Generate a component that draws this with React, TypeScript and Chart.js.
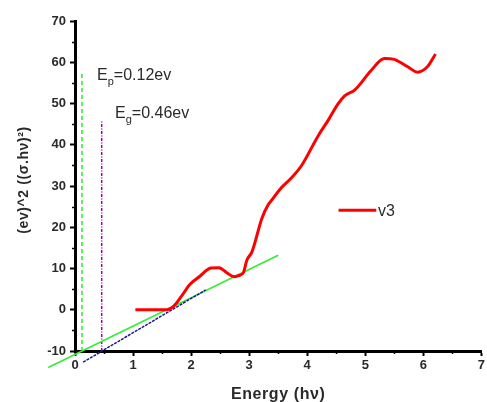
import React, { useEffect, useRef } from "react";
import { Chart, registerables } from "chart.js";

Chart.register(...registerables);

// Measured curve: photon energy (eV) vs (σ·hν)^2
const energy = [
  1.04, 1.57, 1.71, 1.85, 1.97, 2.14, 2.34, 2.48, 2.62, 2.74, 2.82, 2.9, 2.96, 3.05,
  3.22, 3.33, 3.39, 3.55, 3.73, 3.9, 4.19, 4.36, 4.53, 4.64, 4.82, 5.1, 5.33, 5.5,
  5.56, 5.73, 5.9, 6.07, 6.21,
];
const sigmaHv2 = [
  0, 0, 1.0, 3.6, 6.0, 8.0, 10.1, 10.2, 8.9, 8.0, 8.3, 9.0, 12.0, 14.1,
  22.2, 25.5, 26.6, 29.5, 32.0, 34.9, 42.2, 45.9, 49.9, 51.8, 53.3, 58.0, 60.9, 60.7,
  60.3, 58.9, 57.6, 58.9, 62.0,
];

const tangentX = [-0.46, 3.5];
const tangentY = [-14.0, 13.2];
const baseFitX = [0.14, 2.25];
const baseFitY = [-12.7, 4.8];

// Marked energies and the heights of their markers
const epValue = 0.12;
const egValue = 0.46;
const epTop = 57.8;
const egTop = 45.9;
const axisFloor = -10;

const xTicks = [0, 1, 2, 3, 4, 5, 6, 7];
const yTicks = [-10, 0, 10, 20, 30, 40, 50, 60, 70];

const seriesName = "v3";

const FONT = "'Liberation Sans', Arial, sans-serif";
const TEXT = "#2a2a2a";

const toPoints = (xs: number[], ys: number[]) => xs.map((x, i) => ({ x, y: ys[i] }));

const overlayPlugin = {
  id: "overlay",
  afterDraw(chart: any) {
    const { ctx, scales, chartArea } = chart;
    const xs = scales.x;
    const ys = scales.y;
    ctx.save();

    // minor ticks
    ctx.strokeStyle = "#000";
    ctx.lineWidth = 1.5;
    for (let v = xTicks[0] + 0.5; v < xTicks[xTicks.length - 1]; v += 1) {
      const px = Math.round(xs.getPixelForValue(v)) + 0.5;
      ctx.beginPath();
      ctx.moveTo(px, chartArea.bottom);
      ctx.lineTo(px, chartArea.bottom + 3);
      ctx.stroke();
    }
    for (let v = yTicks[0] + 5; v < yTicks[yTicks.length - 1]; v += 10) {
      const py = Math.round(ys.getPixelForValue(v)) + 0.5;
      ctx.beginPath();
      ctx.moveTo(chartArea.left - 3, py);
      ctx.lineTo(chartArea.left, py);
      ctx.stroke();
    }

    // E_p and E_g labels
    const drawSubLabel = (main: string, sub: string, rest: string, x: number, y: number) => {
      ctx.fillStyle = TEXT;
      ctx.textBaseline = "alphabetic";
      ctx.textAlign = "left";
      ctx.font = `16px ${FONT}`;
      ctx.fillText(main, x, y);
      let cx = x + ctx.measureText(main).width;
      ctx.font = `11px ${FONT}`;
      ctx.fillText(sub, cx, y + 5);
      cx += ctx.measureText(sub).width;
      ctx.font = `16px ${FONT}`;
      ctx.fillText(rest, cx, y);
    };
    drawSubLabel("E", "p", "=0." + "12ev", xs.getPixelForValue(0.38), ys.getPixelForValue(55.8));
    drawSubLabel("E", "g", "=0." + "46ev", xs.getPixelForValue(0.69), ys.getPixelForValue(46.5));

    // legend
    const ly = ys.getPixelForValue(24.1);
    ctx.strokeStyle = "#ff0000";
    ctx.lineWidth = 3;
    ctx.beginPath();
    ctx.moveTo(xs.getPixelForValue(4.54), ly);
    ctx.lineTo(xs.getPixelForValue(5.19), ly);
    ctx.stroke();
    ctx.fillStyle = TEXT;
    ctx.font = `16px ${FONT}`;
    ctx.textBaseline = "middle";
    ctx.fillText(seriesName, xs.getPixelForValue(5.22), ly + 1);

    // axis titles
    ctx.font = `bold 16px ${FONT}`;
    ctx.textAlign = "center";
    ctx.textBaseline = "alphabetic";
    (ctx as any).letterSpacing = "0.6px";
    ctx.fillText("Energy (hν)", (chartArea.left + chartArea.right) / 2, 399);

    ctx.translate(28, 180);
    ctx.rotate(-Math.PI / 2);
    ctx.font = `bold 14px ${FONT}`;
    (ctx as any).letterSpacing = "0.6px";
    ctx.textAlign = "center";
    ctx.fillText("(ev)^2 ((σ.hν)²)", 0, 0);
    (ctx as any).letterSpacing = "0px";

    ctx.restore();
  },
};

export default function App() {
  const canvasRef = useRef<HTMLCanvasElement | null>(null);

  useEffect(() => {
    if (!canvasRef.current) return;
    const chart = new Chart(canvasRef.current, {
      type: "scatter",
      data: {
        datasets: [
          {
            data: toPoints(energy, sigmaHv2),
            showLine: true,
            borderColor: "#ff0000",
            borderWidth: 3,
            pointRadius: 0,
            cubicInterpolationMode: "monotone",
          },
          {
            data: toPoints(baseFitX, baseFitY),
            showLine: true,
            borderColor: "#1a1a8c",
            borderWidth: 1.5,
            borderDash: [3, 1],
            pointRadius: 0,
            clip: false,
          },
          {
            data: toPoints(tangentX, tangentY),
            showLine: true,
            borderColor: "#33ee33",
            borderWidth: 1.6,
            pointRadius: 0,
            clip: false,
          },
          {
            data: [
              { x: epValue, y: axisFloor },
              { x: epValue, y: epTop },
            ],
            showLine: true,
            borderColor: "#22ee22",
            borderWidth: 1.5,
            borderDash: [4, 3],
            pointRadius: 0,
          },
          {
            data: [
              { x: egValue, y: axisFloor },
              { x: egValue, y: egTop },
            ],
            showLine: true,
            borderColor: "#990099",
            borderWidth: 1.5,
            borderDash: [3, 1.5, 1, 1.5],
            pointRadius: 0,
          },
        ],
      },
      options: {
        responsive: false,
        animation: false,
        layout: { padding: { top: 21, right: 3, left: 0, bottom: 0 } },
        plugins: { legend: { display: false }, tooltip: { enabled: false } },
        scales: {
          x: {
            type: "linear",
            min: xTicks[0],
            max: xTicks[xTicks.length - 1],
            afterFit: (s: any) => {
              s.height = 51;
            },
            afterBuildTicks: (s: any) => {
              s.ticks = xTicks.map((v) => ({ value: v }));
            },
            grid: {
              drawOnChartArea: false,
              drawTicks: true,
              tickLength: 5,
              tickWidth: 2,
              tickColor: "#000",
            },
            border: { display: true, color: "#000", width: 3 },
            ticks: {
              padding: 2,
              color: TEXT,
              font: { family: FONT, size: 13, weight: "bold" },
            },
          },
          y: {
            type: "linear",
            min: yTicks[0],
            max: yTicks[yTicks.length - 1],
            afterFit: (s: any) => {
              s.width = 75;
            },
            afterBuildTicks: (s: any) => {
              s.ticks = yTicks.map((v) => ({ value: v }));
            },
            grid: {
              drawOnChartArea: false,
              drawTicks: true,
              tickLength: 5,
              tickWidth: 2,
              tickColor: "#000",
            },
            border: { display: true, color: "#000", width: 3 },
            ticks: {
              padding: 4,
              color: TEXT,
              font: { family: FONT, size: 13, weight: "bold" },
            },
          },
        },
      },
      plugins: [overlayPlugin],
    } as any);
    return () => chart.destroy();
  }, []);

  return (
    <div style={{ position: "absolute", left: 0, top: 0, width: 487, height: 402, background: "#fff" }}>
      <canvas ref={canvasRef} width={487} height={402} />
    </div>
  );
}
